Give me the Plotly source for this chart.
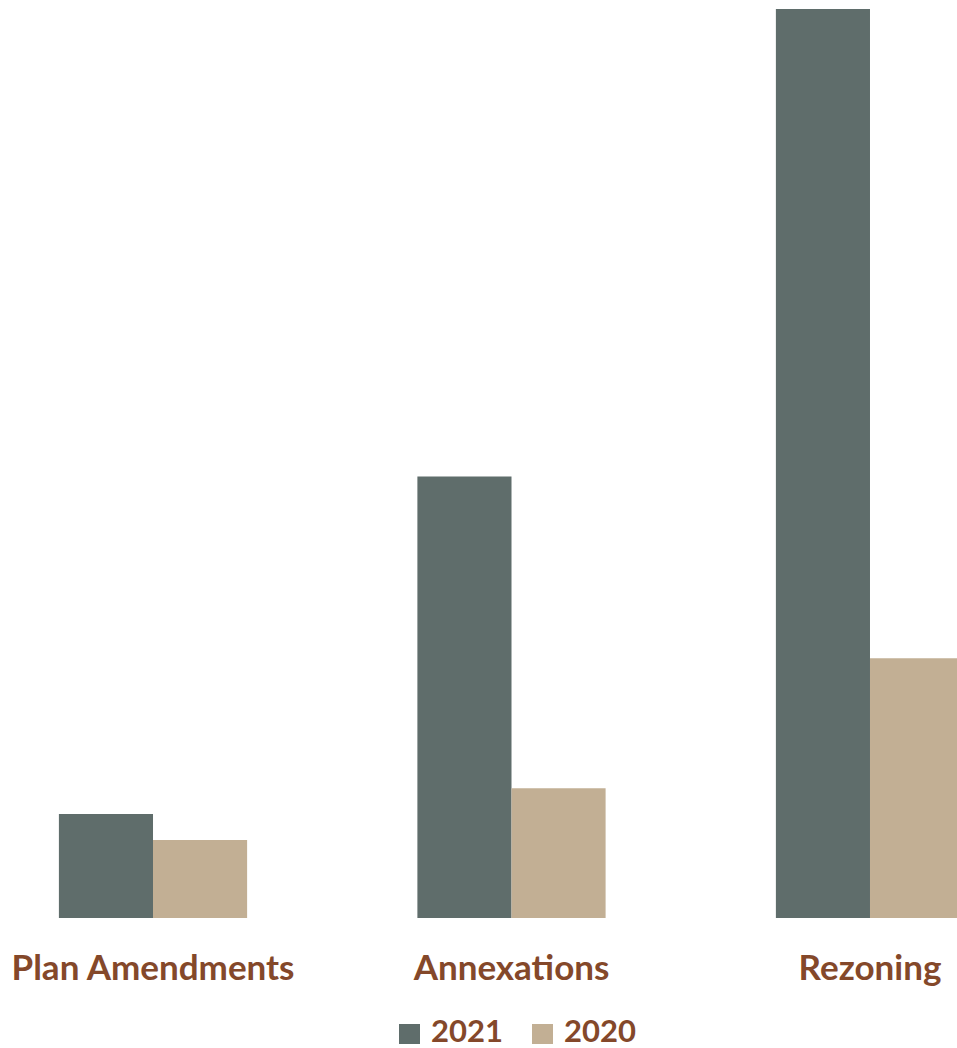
import plotly.graph_objects as go

categories = ["Plan Amendments", "Annexations", "Rezoning"]
values_2021 = [4, 17, 35]
values_2020 = [3, 5, 10]
series_names = ["2021", "2020"]

c2021 = "#5F6D6B"
c2020 = "#C2AF94"
txt = "#84482A"

W, H = 957, 1048
PLOT_H = 918

fig = go.Figure()
fig.add_trace(go.Bar(name=series_names[0], x=categories, y=values_2021, marker_color=c2021,
                     marker_line_width=0))
fig.add_trace(go.Bar(name=series_names[1], x=categories, y=values_2020, marker_color=c2020,
                     marker_line_width=0))

# custom legend (larger swatches like the original)
def px_x(p):
    return p / W

def px_y(p):
    return (PLOT_H - p) / PLOT_H

legend_items = [(series_names[0], c2021, 399, 430), (series_names[1], c2020, 532, 563)]
for name, col, sx, tx in legend_items:
    fig.add_shape(type="rect", xref="paper", yref="paper",
                  x0=px_x(sx), x1=px_x(sx + 21), y0=px_y(1024), y1=px_y(1044),
                  fillcolor=col, line_width=0)
    fig.add_annotation(xref="paper", yref="paper", x=px_x(tx), y=px_y(1030),
                       xanchor="left", yanchor="middle", text=f"<b>{name}</b>",
                       showarrow=False, borderpad=0,
                       font=dict(family="Lato", size=31, color=txt))

fig.update_layout(
    width=W, height=H,
    barmode="group", bargap=0.475, bargroupgap=0,
    margin=dict(l=0, r=0, t=0, b=H - PLOT_H, pad=0),
    plot_bgcolor="white", paper_bgcolor="white",
    font=dict(family="Lato", color=txt, size=28),
    xaxis=dict(range=[-0.4268, 2.2427], showgrid=False, zeroline=False, showline=False,
               ticks="", tickfont=dict(family="Lato", size=35, color=txt, weight="bold"),
               ticklabelstandoff=26),
    yaxis=dict(range=[0, 35.35], visible=False),
    showlegend=False,
)
fig.write_html("out.html", config={"displayModeBar": False},
               post_script="document.body.style.margin='0';document.body.style.overflow='hidden';")
